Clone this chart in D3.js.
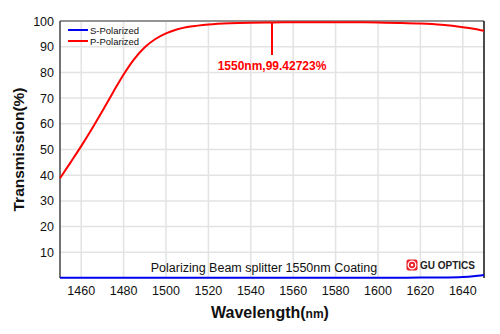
<html>
<head>
<meta charset="utf-8">
<title>Polarizing Beam splitter</title>
<style>
  body { margin: 0; background: #fff; }
  text { font-family: "Liberation Sans", Arial, sans-serif; }
</style>
</head>
<body>
<script src="https://cdn.jsdelivr.net/npm/d3@7"></script>
<script>
var width = 500, height = 334;
var margin = {top: 21, right: 16, bottom: 56, left: 60};

// data
var wavelengths = [1450, 1455, 1460, 1465, 1470, 1475, 1480, 1485, 1490, 1495, 1500, 1505, 1510, 1515, 1520, 1530, 1540, 1550, 1560, 1570, 1580, 1590, 1600, 1610, 1620, 1630, 1640, 1645, 1650];
var pPolarized  = [38.8, 45.0, 51.3, 58.0, 65.0, 72.2, 79.2, 85.2, 89.8, 93.0, 95.2, 96.7, 97.7, 98.2, 98.6, 99.1, 99.35, 99.43, 99.5, 99.55, 99.55, 99.5, 99.4, 99.25, 99.0, 98.5, 97.6, 97.0, 96.2];
var sPolarized  = [0.1, 0.1, 0.1, 0.1, 0.1, 0.1, 0.1, 0.1, 0.1, 0.1, 0.1, 0.1, 0.1, 0.1, 0.1, 0.1, 0.1, 0.1, 0.1, 0.1, 0.1, 0.1, 0.1, 0.1, 0.15, 0.2, 0.4, 0.7, 1.2];
var xTicks = [1460, 1480, 1500, 1520, 1540, 1560, 1580, 1600, 1620, 1640];
var yTicks = [10, 20, 30, 40, 50, 60, 70, 80, 90, 100];
var markX = 1550, markY = 99.42723;

var svg = d3.select("body").append("svg")
  .attr("width", width).attr("height", height);

var x = d3.scaleLinear().domain([1450, 1650]).range([margin.left, width - margin.right]);
var y = d3.scaleLinear().domain([0, 100]).range([height - margin.bottom, margin.top]);

// grid
svg.append("g").selectAll("line").data(xTicks).enter().append("line")
  .attr("x1", function(d){ return x(d); }).attr("x2", function(d){ return x(d); })
  .attr("y1", y(0)).attr("y2", y(100))
  .attr("stroke", "#e3e3e3").attr("stroke-width", 1.5);
svg.append("g").selectAll("line").data(yTicks).enter().append("line")
  .attr("x1", x(1450)).attr("x2", x(1650))
  .attr("y1", function(d){ return y(d); }).attr("y2", function(d){ return y(d); })
  .attr("stroke", "#e3e3e3").attr("stroke-width", 1.5);

// frame
svg.append("line").attr("x1", x(1450)).attr("x2", x(1650)).attr("y1", y(100)).attr("y2", y(100))
  .attr("stroke", "#777").attr("stroke-width", 1.5);
svg.append("line").attr("x1", x(1450)).attr("x2", x(1450)).attr("y1", y(100)).attr("y2", y(0))
  .attr("stroke", "#444").attr("stroke-width", 1.5);
svg.append("line").attr("x1", x(1650)).attr("x2", x(1650)).attr("y1", y(100)).attr("y2", y(0))
  .attr("stroke", "#111").attr("stroke-width", 1.5);

// tick labels
svg.append("g").selectAll("text").data(yTicks).enter().append("text")
  .attr("x", margin.left - 6).attr("y", function(d){ return y(d) + 4.5; })
  .attr("text-anchor", "end").attr("font-size", 12.5).attr("fill", "#111")
  .text(function(d){ return d; });
svg.append("g").selectAll("text").data(xTicks).enter().append("text")
  .attr("x", function(d){ return x(d); }).attr("y", y(0) + 17)
  .attr("text-anchor", "middle").attr("font-size", 12.5).attr("fill", "#111")
  .text(function(d){ return d; });

// curves
var line = d3.line().x(function(d){ return x(d[0]); }).y(function(d){ return y(d[1]); }).curve(d3.curveMonotoneX);
svg.append("path").datum(wavelengths.map(function(w, i){ return [w, sPolarized[i]]; }))
  .attr("d", line).attr("fill", "none").attr("stroke", "#0000ee").attr("stroke-width", 2);
svg.append("path").datum(wavelengths.map(function(w, i){ return [w, pPolarized[i]]; }))
  .attr("d", line).attr("fill", "none").attr("stroke", "#ff0000").attr("stroke-width", 2);

// marker
svg.append("line").attr("x1", x(markX)).attr("x2", x(markX)).attr("y1", y(markY)).attr("y2", 55)
  .attr("stroke", "#ff0000").attr("stroke-width", 2);
svg.append("text").attr("x", x(markX)).attr("y", 70).attr("text-anchor", "middle")
  .attr("font-size", 12).attr("font-weight", "bold").attr("fill", "#ff0000")
  .text(markX + "nm," + markY + "%");

// legend
var legend = [["S-Polarized", "#0000ee"], ["P-Polarized", "#ff0000"]];
legend.forEach(function(d, i){
  svg.append("line").attr("x1", 68).attr("x2", 88).attr("y1", 30 + i * 11).attr("y2", 30 + i * 11)
    .attr("stroke", d[1]).attr("stroke-width", 2);
  svg.append("text").attr("x", 90).attr("y", 33.5 + i * 11).attr("font-size", 9.5).attr("fill", "#111").text(d[0]);
});

// footer texts
svg.append("text").attr("x", 264).attr("y", 272).attr("text-anchor", "middle")
  .attr("font-size", 12.5).attr("fill", "#111").text("Polarizing Beam splitter 1550nm Coating");
var logo = svg.append("g").attr("transform", "translate(412,265)");
logo.append("rect").attr("x", -5.5).attr("y", -5.5).attr("width", 11).attr("height", 11).attr("rx", 2).attr("fill", "#e8202a");
logo.append("circle").attr("r", 3.8).attr("fill", "none").attr("stroke", "#fff").attr("stroke-width", 1.3);
logo.append("circle").attr("r", 1.3).attr("fill", "#fff");
svg.append("text").attr("x", 420).attr("y", 269).attr("font-size", 10).attr("font-weight", "bold")
  .attr("fill", "#222").text("GU OPTICS");

// axis titles
svg.append("text").attr("transform", "translate(24," + ((y(0) + y(100)) / 2) + ") rotate(-90)")
  .attr("text-anchor", "middle").attr("font-size", 15.5).attr("font-weight", "bold").attr("fill", "#111")
  .text("Transmission(%)");
var xt = svg.append("text").attr("x", 270).attr("y", 318).attr("text-anchor", "middle")
  .attr("font-size", 16).attr("font-weight", "bold").attr("fill", "#111");
xt.append("tspan").text("Wavelength(");
xt.append("tspan").attr("font-size", 12).text("nm");
xt.append("tspan").text(")");
</script>
</body>
</html>
